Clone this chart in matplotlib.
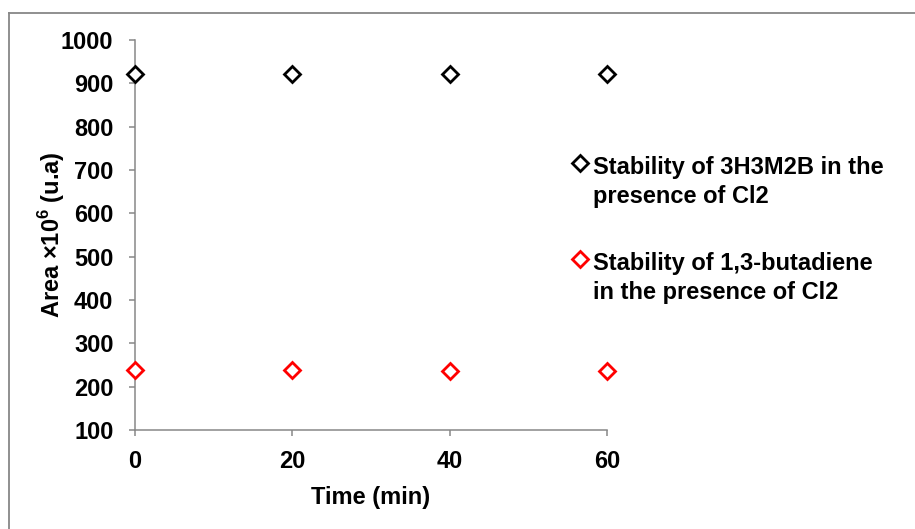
import matplotlib
matplotlib.use("Agg")
import matplotlib.pyplot as plt
from matplotlib.lines import Line2D

plt.rcParams['font.family'] = ['Liberation Sans', 'DejaVu Sans']
plt.rcParams['mathtext.fontset'] = 'custom'
plt.rcParams['mathtext.rm'] = 'Liberation Sans:bold'
plt.rcParams['mathtext.bf'] = 'Liberation Sans:bold'

# Data
time_min = [0, 20, 40, 60]
area_3h3m2b = [922, 921, 921, 921]
area_butadiene = [238, 238, 237, 237]
series_labels = ["Stability of 3H3M2B in the\npresence of Cl2",
                 "Stability of 1,3-butadiene\nin the presence of Cl2"]
series_colors = ["#000000", "#ff0000"]
x_ticks = [0, 20, 40, 60]
y_ticks = [100, 200, 300, 400, 500, 600, 700, 800, 900, 1000]

W, H = 915, 529
fig = plt.figure(figsize=(W / 100, H / 100), dpi=100)
ax = fig.add_axes([135 / W, 1 - 430 / H, (607 - 135) / W, (430 - 40) / H])

grey = "#878787"
FS = 17
MS, MEW = 8, 2.0
for y, c in zip([area_3h3m2b, area_butadiene], series_colors):
    ax.plot(time_min, y, linestyle='none', marker='D', markersize=MS,
            markerfacecolor='white', markeredgecolor=c, markeredgewidth=MEW,
            clip_on=False, zorder=5)

ax.set_xlim(0, 60)
ax.set_ylim(100, 1000)
ax.set_xticks(x_ticks)
ax.set_yticks(y_ticks)
for s in ['top', 'right']:
    ax.spines[s].set_visible(False)
for s in ['left', 'bottom']:
    ax.spines[s].set_color(grey)
    ax.spines[s].set_linewidth(1.1)
ax.tick_params(axis='both', direction='out', length=4.5, width=1.1, color=grey,
               labelsize=FS)
ax.tick_params(axis='y', pad=11)
ax.tick_params(axis='x', pad=10)
for lab in ax.get_xticklabels() + ax.get_yticklabels():
    lab.set_fontweight('bold')

ax.set_xlabel("Time (min)", fontsize=FS, fontweight='bold', labelpad=9)
ax.set_ylabel(r"Area $\mathbf{\times}$10$^{\mathbf{6}}$ (u.a)", fontsize=FS,
              fontweight='bold', labelpad=-4)

# Manual legend
leg_y = [163, 259]
for ly, lab, c in zip(leg_y, series_labels, series_colors):
    fig.add_artist(Line2D([580 / W], [1 - ly / H], marker='D', markersize=MS,
                          markerfacecolor='white', markeredgecolor=c,
                          markeredgewidth=MEW, linestyle='none'))
    fig.text(593 / W, 1 - (ly - 7) / H, lab, fontsize=FS, fontweight='bold',
             va='top', ha='left', linespacing=1.33)

# Figure border (left and top visible)
fig.add_artist(Line2D([8.5 / W, 8.5 / W], [0, 1 - 12.5 / H], color=grey, linewidth=1.3))
fig.add_artist(Line2D([8.5 / W, 1], [1 - 12.5 / H, 1 - 12.5 / H], color=grey, linewidth=1.3))

fig.savefig("out.png", dpi=100)
